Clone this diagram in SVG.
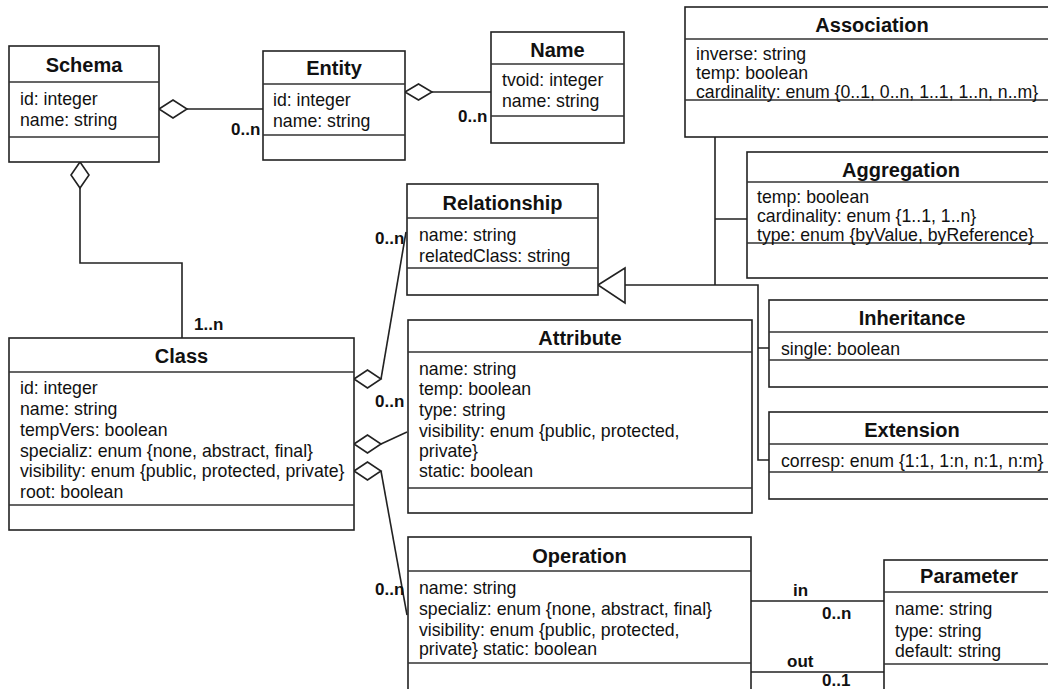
<svg xmlns="http://www.w3.org/2000/svg" width="1048" height="689" viewBox="0 0 1048 689">
<style>
.box{fill:#fff;stroke:#222;stroke-width:1.6}
.sep{stroke:#333;stroke-width:1.4;fill:none}
.t{font-family:"Liberation Sans",Arial,sans-serif;font-size:20px;font-weight:bold;fill:#111;text-anchor:middle}
.a{font-family:"Liberation Sans",Arial,sans-serif;font-size:17.7px;fill:#111}
.l{font-family:"Liberation Sans",Arial,sans-serif;font-size:17px;font-weight:bold;fill:#111}
.c{stroke:#222;stroke-width:1.6;fill:none}
.d{stroke:#222;stroke-width:1.6;fill:#fff}
</style>
<rect width="1048" height="689" fill="#fff"/>
<g id="connectors">
<path class="c" d="M187,109 L263,109"/>
<polygon class="d" points="159,109 173,100 187,109 173,118"/>
<path class="c" d="M432,92 L491,92"/>
<polygon class="d" points="405,92 418.5,84 432,92 418.5,100"/>
<path class="c" d="M80,188 L80,263 L182,263 L182,338"/>
<polygon class="d" points="80,162 89,175 80,188 71,175"/>
<path class="c" d="M381,379 L406,232"/>
<polygon class="d" points="354,379 367.5,370 381,379 367.5,388"/>
<path class="c" d="M381,444 L407,432"/>
<polygon class="d" points="354,444 367.5,435 381,444 367.5,453"/>
<path class="c" d="M381,471 L407,615"/>
<polygon class="d" points="354,471 367.5,462 381,471 367.5,480"/>
<path class="c" d="M625,285 L758,285 L758,460 L769,460 M758,348 L769,348 M715,137 L715,285 M715,219 L747,219"/>
<polygon class="d" points="598,285 625,268 625,303"/>
<path class="c" d="M751,601 L884,601 M751,672 L884,672"/>
<text class="l" x="231" y="135">0..n</text>
<text class="l" x="458" y="122">0..n</text>
<text class="l" x="194" y="330">1..n</text>
<text class="l" x="375" y="244">0..n</text>
<text class="l" x="375" y="407">0..n</text>
<text class="l" x="375" y="595">0..n</text>
<text class="l" x="793" y="596">in</text>
<text class="l" x="822" y="619">0..n</text>
<text class="l" x="787" y="667">out</text>
<text class="l" x="822" y="686">0..1</text>
</g>
<g id="schema">
<rect class="box" x="9" y="46" width="150" height="116"/>
<path class="sep" d="M9,82 H159 M9,137 H159"/>
<text class="t" x="84" y="72">Schema</text>
<text class="a" x="20" y="105">id: integer</text>
<text class="a" x="20" y="126">name: string</text>
</g>
<g id="entity">
<rect class="box" x="263" y="51" width="142" height="109"/>
<path class="sep" d="M263,84 H405 M263,135 H405"/>
<text class="t" x="334" y="75">Entity</text>
<text class="a" x="273" y="106">id: integer</text>
<text class="a" x="273" y="127">name: string</text>
</g>
<g id="name">
<rect class="box" x="491" y="32" width="133" height="111"/>
<path class="sep" d="M491,64 H624 M491,116 H624"/>
<text class="t" x="557.5" y="57">Name</text>
<text class="a" x="502" y="86">tvoid: integer</text>
<text class="a" x="502" y="107">name: string</text>
</g>
<g id="association">
<rect class="box" x="685" y="7" width="374" height="130"/>
<path class="sep" d="M685,39 H1059 M685,100 H1059"/>
<text class="t" x="872" y="32">Association</text>
<text class="a" x="696" y="60">inverse: string</text>
<text class="a" x="696" y="79">temp: boolean</text>
<text class="a" x="696" y="97.5">cardinality: enum {0..1, 0..n, 1..1, 1..n, n..m}</text>
</g>
<g id="aggregation">
<rect class="box" x="747" y="152" width="308" height="126"/>
<path class="sep" d="M747,182 H1055 M747,243 H1055"/>
<text class="t" x="901" y="177">Aggregation</text>
<text class="a" x="757" y="203">temp: boolean</text>
<text class="a" x="757" y="222">cardinality: enum {1..1, 1..n}</text>
<text class="a" x="757" y="240.5">type: enum {byValue, byReference}</text>
</g>
<g id="relationship">
<rect class="box" x="407" y="184" width="191" height="111"/>
<path class="sep" d="M407,218 H598 M407,268 H598"/>
<text class="t" x="502.5" y="210">Relationship</text>
<text class="a" x="419" y="241">name: string</text>
<text class="a" x="419" y="262">relatedClass: string</text>
</g>
<g id="inheritance">
<rect class="box" x="769" y="300" width="286" height="87"/>
<path class="sep" d="M769,332 H1055 M769,360 H1055"/>
<text class="t" x="912" y="325">Inheritance</text>
<text class="a" x="781" y="355">single: boolean</text>
</g>
<g id="extension">
<rect class="box" x="769" y="412" width="286" height="87"/>
<path class="sep" d="M769,444 H1055 M769,472 H1055"/>
<text class="t" x="912" y="437">Extension</text>
<text class="a" x="781" y="467">corresp: enum {1:1, 1:n, n:1, n:m}</text>
</g>
<g id="class">
<rect class="box" x="9" y="338" width="345" height="192"/>
<path class="sep" d="M9,372 H354 M9,505 H354"/>
<text class="t" x="181.5" y="363">Class</text>
<text class="a" x="20" y="394">id: integer</text>
<text class="a" x="20" y="415">name: string</text>
<text class="a" x="20" y="436">tempVers: boolean</text>
<text class="a" x="20" y="457">specializ: enum {none, abstract, final}</text>
<text class="a" x="20" y="477">visibility: enum {public, protected, private}</text>
<text class="a" x="20" y="498">root: boolean</text>
</g>
<g id="attribute">
<rect class="box" x="408" y="320" width="344" height="193"/>
<path class="sep" d="M408,352 H752 M408,488 H752"/>
<text class="t" x="580" y="345">Attribute</text>
<text class="a" x="419" y="375">name: string</text>
<text class="a" x="419" y="395">temp: boolean</text>
<text class="a" x="419" y="416">type: string</text>
<text class="a" x="419" y="437">visibility: enum {public, protected,</text>
<text class="a" x="419" y="457">private}</text>
<text class="a" x="419" y="477">static: boolean</text>
</g>
<g id="operation">
<rect class="box" x="408" y="537" width="343" height="153"/>
<path class="sep" d="M408,571 H751 M408,663 H751"/>
<text class="t" x="579.5" y="563">Operation</text>
<text class="a" x="419" y="594">name: string</text>
<text class="a" x="419" y="615">specializ: enum {none, abstract, final}</text>
<text class="a" x="419" y="636">visibility: enum {public, protected,</text>
<text class="a" x="419" y="655">private} static: boolean</text>
</g>
<g id="parameter">
<rect class="box" x="884" y="560" width="171" height="130"/>
<path class="sep" d="M884,592 H1055 M884,664 H1055"/>
<text class="t" x="969" y="583">Parameter</text>
<text class="a" x="895" y="615">name: string</text>
<text class="a" x="895" y="637">type: string</text>
<text class="a" x="895" y="657">default: string</text>
</g>
</svg>
